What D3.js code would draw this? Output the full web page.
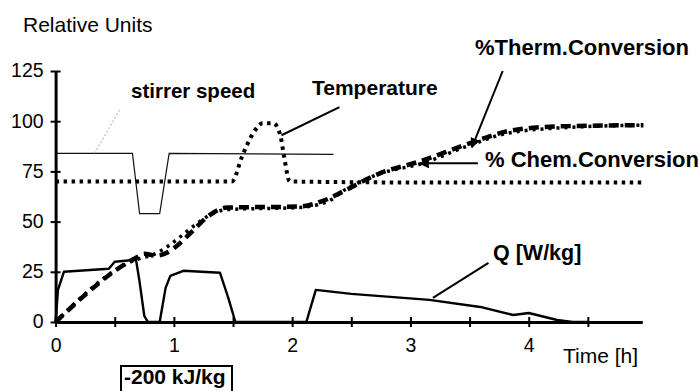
<!DOCTYPE html>
<html>
<head>
<meta charset="utf-8">
<script src="https://cdn.jsdelivr.net/npm/d3@7"></script>
<style>
  body { margin: 0; background: #fff; }
  svg { display: block; font-family: "Liberation Sans", Arial, sans-serif; }
</style>
</head>
<body>
<svg id="chart" width="699" height="391"></svg>
<script>
// values (time in hours, relative units)
const stirrerT = [0, 0.65, 0.71, 0.88, 0.96, 2.35];
const stirrerV = [84, 84, 54, 54, 84, 83.5];

const tempT = [0, 1.49, 1.58, 1.67, 1.75, 1.84, 1.9, 1.93, 1.98, 3, 4.97];
const tempV = [70, 70, 83, 94, 99, 99, 93, 83, 70, 69.5, 69.5];

const thermT = [0, 0.68, 0.75, 0.85, 1.45, 2.05, 2.29, 2.43, 2.74, 3.08, 3.5, 3.82, 4.1, 4.37, 4.97];
const thermV = [0, 32, 34, 33, 57, 57.5, 61, 65, 74, 80, 89, 95, 97, 97.6, 98];

const chemT = [0, 0.68, 0.8, 1.45, 2.05, 2.3, 2.45, 2.75, 3.1, 3.5, 3.82, 4.37, 4.97];
const chemV = [0, 31, 33, 56, 57, 60, 66, 74, 79, 88, 94, 97, 98];

const qT = [0, 0.02, 0.07, 0.45, 0.5, 0.68, 0.71, 0.75, 0.78, 0.88, 0.93, 0.97, 1.08, 1.39, 1.46, 1.52, 2.12, 2.2, 2.5, 3.16, 3.59, 3.87, 4.0, 4.24, 4.37, 4.5];
const qV = [0, 16, 25, 26.5, 30, 31, 20, 3, 0, 0, 17, 23, 25.5, 24.5, 12, 0, 0, 16, 14, 11, 7.5, 3.5, 4.5, 1, 0, 0];

const yTicks = [0, 25, 50, 75, 100, 125];
const xTicks = [0, 0.5, 1, 1.5, 2, 2.5, 3, 3.5, 4, 4.5];
const xEnd = 4.96;

const svg = d3.select("#chart");

const x = d3.scaleLinear().domain([0, 5]).range([55.6, 647]);
const y = d3.scaleLinear().domain([0, 125]).range([322, 71]);

const zip = (ts, vs) => ts.map((t, i) => ({t: t, v: vs[i]}));
const straight = d3.line().x(d => x(d.t)).y(d => y(d.v));
const smooth = d3.line().x(d => x(d.t)).y(d => y(d.v)).curve(d3.curveMonotoneX);

// arrow marker for the leader lines
svg.append("defs").append("marker")
  .attr("id", "arrow")
  .attr("viewBox", "0 0 10 10")
  .attr("refX", 9).attr("refY", 5)
  .attr("markerWidth", 5).attr("markerHeight", 5)
  .attr("orient", "auto")
  .append("path").attr("d", "M0,0L10,5L0,10z").attr("fill", "#000");

// series
svg.append("path").datum(zip(stirrerT, stirrerV))
  .attr("d", straight).attr("fill", "none").attr("stroke", "#111").attr("stroke-width", 1.2);

svg.append("path").datum(zip(qT, qV))
  .attr("d", straight).attr("fill", "none").attr("stroke", "#000").attr("stroke-width", 2.4)
  .attr("stroke-linejoin", "round");

svg.append("path").datum(zip(tempT, tempV))
  .attr("d", smooth).attr("fill", "none").attr("stroke", "#000")
  .attr("stroke-width", 4).attr("stroke-dasharray", "3.5,4.5");

svg.append("path").datum(zip(thermT, thermV))
  .attr("d", smooth).attr("fill", "none").attr("stroke", "#000")
  .attr("stroke-width", 4.5).attr("stroke-dasharray", "10,6");

svg.append("path").datum(zip(chemT, chemV))
  .attr("d", smooth).attr("fill", "none").attr("stroke", "#000")
  .attr("stroke-width", 3.5).attr("stroke-dasharray", "3,5");

// axes: d3 axes with cross ticks, drawn on top of the series
const yAxis = svg.append("g")
  .attr("class", "y-axis")
  .attr("transform", `translate(${x(0)},0)`)
  .call(d3.axisLeft(y).tickValues(yTicks).tickSizeInner(5).tickSizeOuter(0).tickPadding(7));
yAxis.select(".domain").attr("stroke", "black").attr("stroke-width", 3).style("stroke", "black");
yAxis.selectAll(".tick line").attr("x1", 5).attr("stroke-width", 2).style("stroke", "black");
yAxis.selectAll(".tick text").attr("font-size", 19.5).attr("dy", "0.3em")
  .attr("fill", "#000").attr("font-family", "Liberation Sans, Arial, sans-serif");

const xAxisScale = x.copy().domain([0, xEnd]).range([x(0), x(xEnd)]);
const xAxis = svg.append("g")
  .attr("class", "x-axis")
  .attr("transform", `translate(0,${y(0)})`)
  .call(d3.axisBottom(xAxisScale).tickValues(xTicks).tickSizeInner(5).tickSizeOuter(0).tickPadding(11)
    .tickFormat(d => Number.isInteger(d) ? d : ""));
xAxis.select(".domain").attr("stroke-width", 3).style("stroke", "black");
xAxis.selectAll(".tick line").attr("y1", -5).attr("stroke-width", 2).style("stroke", "black");
xAxis.selectAll(".tick text").attr("font-size", 19.5)
  .attr("fill", "#000").attr("font-family", "Liberation Sans, Arial, sans-serif");

// leader lines (in data units)
const leaders = [
  {a: [0.54, 105.6], b: [0.33, 84], color: "#aaa", w: 1, dash: "2,2", arrow: false},
  {a: [2.40, 107], b: [1.91, 93], color: "#000", w: 2, dash: null, arrow: false},
  {a: [3.78, 125], b: [3.52, 87], color: "#000", w: 2, dash: null, arrow: true},
  {a: [3.57, 79], b: [3.08, 79], color: "#000", w: 2, dash: null, arrow: true},
  {a: [3.66, 29.4], b: [3.19, 12], color: "#000", w: 2, dash: null, arrow: false}
];
svg.selectAll(".leader").data(leaders).enter().append("line")
  .attr("class", "leader")
  .attr("x1", d => x(d.a[0])).attr("y1", d => y(d.a[1]))
  .attr("x2", d => x(d.b[0])).attr("y2", d => y(d.b[1]))
  .attr("stroke", d => d.color).attr("stroke-width", d => d.w)
  .attr("stroke-dasharray", d => d.dash)
  .attr("marker-end", d => d.arrow ? "url(#arrow)" : null);

// labels
const labels = [
  {text: "Relative Units", x: 23, y: 32, size: 21, bold: false},
  {text: "stirrer speed", x: 131, y: 98, size: 20.5, bold: true},
  {text: "Temperature", x: 312, y: 95, size: 21, bold: true},
  {text: "%Therm.Conversion", x: 475, y: 55, size: 22, bold: true},
  {text: "% Chem.Conversion", x: 485, y: 167, size: 22, bold: true},
  {text: "Q [W/kg]", x: 493, y: 260, size: 21.5, bold: true},
  {text: "Time [h]", x: 563, y: 363, size: 21, bold: false}
];
svg.selectAll(".lbl").data(labels).enter().append("text")
  .attr("class", "lbl")
  .attr("x", d => d.x).attr("y", d => d.y)
  .attr("font-size", d => d.size)
  .attr("font-weight", d => d.bold ? "bold" : "normal")
  .text(d => d.text);

// boxed enthalpy note
const note = svg.append("g");
note.append("rect").attr("x", 121).attr("y", 366).attr("width", 111).attr("height", 30)
  .attr("fill", "none").attr("stroke", "#000").attr("stroke-width", 2);
note.append("text").attr("x", 124).attr("y", 384).attr("font-size", 21).attr("font-weight", "bold")
  .text("-200 kJ/kg");
</script>
</body>
</html>
